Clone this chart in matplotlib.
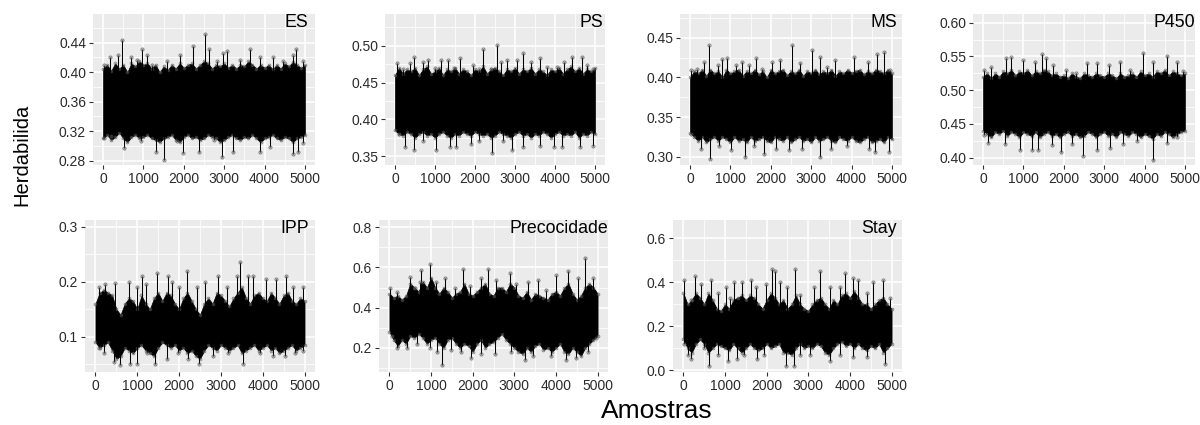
import numpy as np
import matplotlib
matplotlib.use("Agg")
import matplotlib.pyplot as plt
from matplotlib.ticker import MultipleLocator, AutoMinorLocator, FormatStrFormatter

plt.rcParams["font.family"] = ["Liberation Sans", "DejaVu Sans"]

# ---- chain traces: band envelope every 100 samples + isolated excursions (sample, value)
CORE_X = list(range(0, 5001, 100))

ES_HI = [0.405, 0.41, 0.402, 0.412, 0.405, 0.41, 0.40, 0.412, 0.408, 0.415, 0.41, 0.412, 0.405,
         0.41, 0.40, 0.408, 0.403, 0.41, 0.405, 0.412, 0.406, 0.41, 0.412, 0.405, 0.41, 0.415,
         0.412, 0.405, 0.41, 0.408, 0.412, 0.406, 0.41, 0.405, 0.41, 0.408, 0.415, 0.41, 0.405,
         0.41, 0.406, 0.41, 0.404, 0.41, 0.405, 0.412, 0.408, 0.414, 0.41, 0.406, 0.41]
ES_LO = [0.31, 0.315, 0.308, 0.312, 0.318, 0.31, 0.305, 0.312, 0.315, 0.31, 0.312, 0.315, 0.31,
         0.308, 0.305, 0.31, 0.312, 0.315, 0.308, 0.305, 0.312, 0.315, 0.31, 0.312, 0.308, 0.31,
         0.315, 0.312, 0.31, 0.305, 0.308, 0.312, 0.315, 0.31, 0.308, 0.312, 0.31, 0.315, 0.31,
         0.305, 0.31, 0.312, 0.315, 0.31, 0.308, 0.312, 0.31, 0.305, 0.31, 0.312, 0.315]
ES_UP = [(30, 0.41), (170, 0.42), (370, 0.424), (477, 0.444), (680, 0.42), (850, 0.417),
         (970, 0.432), (1077, 0.424), (1220, 0.41), (1590, 0.415), (1915, 0.424),
         (2230, 0.435), (2530, 0.452), (2614, 0.432), (2820, 0.415), (2970, 0.426),
         (3065, 0.429), (3390, 0.417), (3640, 0.431), (3890, 0.42), (4220, 0.42),
         (4460, 0.415), (4710, 0.424), (4790, 0.432), (4955, 0.415)]
ES_DN = [(25, 0.31), (190, 0.313), (518, 0.297), (930, 0.306), (1300, 0.292), (1520, 0.281),
         (1830, 0.306), (1980, 0.29), (2370, 0.292), (2740, 0.308), (2940, 0.285),
         (3210, 0.292), (3890, 0.292), (4135, 0.299), (4710, 0.289), (4835, 0.292),
         (4955, 0.304)]

PS_HI = [0.46, 0.47, 0.462, 0.468, 0.465, 0.47, 0.46, 0.468, 0.472, 0.462, 0.465, 0.47, 0.46,
         0.468, 0.465, 0.47, 0.462, 0.468, 0.465, 0.46, 0.468, 0.465, 0.472, 0.462, 0.468, 0.47,
         0.465, 0.46, 0.468, 0.465, 0.47, 0.462, 0.468, 0.465, 0.47, 0.462, 0.468, 0.465, 0.46,
         0.468, 0.465, 0.47, 0.462, 0.468, 0.472, 0.465, 0.47, 0.462, 0.468, 0.465, 0.47]
PS_LO = [0.385, 0.38, 0.378, 0.383, 0.38, 0.375, 0.38, 0.383, 0.378, 0.38, 0.375, 0.38, 0.383,
         0.378, 0.375, 0.38, 0.378, 0.383, 0.38, 0.378, 0.383, 0.38, 0.378, 0.38, 0.375, 0.378,
         0.383, 0.38, 0.378, 0.375, 0.38, 0.383, 0.378, 0.38, 0.375, 0.38, 0.378, 0.383, 0.38,
         0.375, 0.38, 0.383, 0.378, 0.38, 0.378, 0.383, 0.375, 0.38, 0.378, 0.383, 0.38]
PS_UP = [(41, 0.476), (200, 0.469), (372, 0.476), (470, 0.484), (700, 0.478), (830, 0.48),
         (1000, 0.47), (1157, 0.481), (1322, 0.481), (1480, 0.47), (1636, 0.483),
         (1942, 0.474), (2100, 0.468), (2206, 0.495), (2397, 0.468), (2545, 0.501),
         (2660, 0.478), (2810, 0.48), (3041, 0.481), (3206, 0.49), (3388, 0.478),
         (3636, 0.483), (3800, 0.471), (4050, 0.471), (4215, 0.478), (4421, 0.485),
         (4669, 0.485), (4790, 0.474), (4950, 0.469)]
PS_DN = [(100, 0.38), (248, 0.363), (470, 0.359), (700, 0.37), (1033, 0.358), (1363, 0.362),
         (1530, 0.362), (1900, 0.366), (2100, 0.37), (2420, 0.354), (2700, 0.37),
         (2934, 0.358), (3206, 0.362), (3636, 0.364), (3967, 0.362), (4180, 0.362),
         (4628, 0.362), (4950, 0.364)]

MS_HI = [0.40, 0.408, 0.405, 0.41, 0.402, 0.41, 0.405, 0.408, 0.40, 0.41, 0.405, 0.408, 0.41,
         0.402, 0.408, 0.405, 0.41, 0.404, 0.408, 0.40, 0.41, 0.405, 0.408, 0.41, 0.403, 0.408,
         0.405, 0.41, 0.402, 0.408, 0.405, 0.41, 0.404, 0.408, 0.405, 0.41, 0.402, 0.408, 0.405,
         0.41, 0.406, 0.408, 0.41, 0.404, 0.408, 0.405, 0.41, 0.408, 0.405, 0.41, 0.405]
MS_LO = [0.33, 0.325, 0.32, 0.325, 0.318, 0.322, 0.325, 0.32, 0.325, 0.322, 0.318, 0.325, 0.32,
         0.322, 0.318, 0.325, 0.32, 0.322, 0.325, 0.32, 0.318, 0.325, 0.322, 0.32, 0.325, 0.318,
         0.322, 0.325, 0.32, 0.322, 0.318, 0.325, 0.32, 0.322, 0.325, 0.32, 0.318, 0.325, 0.322,
         0.32, 0.325, 0.32, 0.318, 0.322, 0.325, 0.318, 0.32, 0.322, 0.318, 0.325, 0.322]
MS_UP = [(30, 0.409), (182, 0.411), (346, 0.42), (470, 0.441), (680, 0.416), (800, 0.423),
         (922, 0.424), (1130, 0.416), (1293, 0.419), (1460, 0.416), (1623, 0.424),
         (1790, 0.411), (2034, 0.42), (2224, 0.422), (2529, 0.441), (2730, 0.418),
         (3023, 0.434), (3212, 0.426), (3400, 0.413), (3600, 0.422), (4053, 0.426),
         (4398, 0.42), (4629, 0.43), (4794, 0.432), (4950, 0.41)]
MS_DN = [(15, 0.329), (264, 0.31), (494, 0.297), (716, 0.313), (1005, 0.308), (1359, 0.3),
         (1580, 0.313), (1829, 0.304), (2140, 0.31), (2446, 0.308), (2775, 0.31),
         (3212, 0.3), (3480, 0.31), (3890, 0.313), (4423, 0.31), (4588, 0.306),
         (4918, 0.306)]

P450_HI = [0.52, 0.525, 0.518, 0.525, 0.52, 0.528, 0.525, 0.53, 0.522, 0.528, 0.525, 0.53,
           0.522, 0.528, 0.525, 0.53, 0.528, 0.522, 0.525, 0.52, 0.522, 0.518, 0.525, 0.52,
           0.518, 0.525, 0.522, 0.52, 0.525, 0.522, 0.52, 0.525, 0.522, 0.518, 0.525, 0.52,
           0.522, 0.525, 0.52, 0.528, 0.522, 0.525, 0.52, 0.528, 0.525, 0.53, 0.522, 0.528,
           0.525, 0.522, 0.525]
P450_LO = [0.44, 0.435, 0.43, 0.438, 0.435, 0.44, 0.432, 0.438, 0.435, 0.43, 0.438, 0.435,
           0.432, 0.438, 0.43, 0.435, 0.438, 0.432, 0.435, 0.43, 0.435, 0.438, 0.432, 0.435,
           0.43, 0.432, 0.438, 0.435, 0.43, 0.435, 0.438, 0.432, 0.435, 0.43, 0.438, 0.435,
           0.432, 0.438, 0.435, 0.43, 0.435, 0.432, 0.428, 0.435, 0.432, 0.438, 0.435, 0.43,
           0.435, 0.438, 0.44]
P450_UP = [(17, 0.53), (207, 0.535), (578, 0.547), (700, 0.549), (990, 0.545), (1281, 0.542),
           (1471, 0.554), (1570, 0.547), (1735, 0.537), (2066, 0.53), (2300, 0.525),
           (2562, 0.54), (2810, 0.54), (3124, 0.537), (3388, 0.542), (3650, 0.53),
           (3967, 0.555), (4215, 0.542), (4545, 0.551), (4793, 0.542), (4960, 0.528)]
P450_DN = [(17, 0.434), (124, 0.421), (537, 0.42), (909, 0.411), (1223, 0.411), (1364, 0.411),
           (1700, 0.418), (1942, 0.409), (2200, 0.42), (2479, 0.402), (2810, 0.411),
           (3140, 0.414), (3470, 0.42), (3801, 0.424), (4215, 0.396), (4545, 0.421),
           (4793, 0.43)]

IPP_HI = [0.16, 0.18, 0.185, 0.18, 0.175, 0.15, 0.14, 0.16, 0.17, 0.165, 0.15, 0.175, 0.16,
          0.15, 0.17, 0.18, 0.165, 0.18, 0.175, 0.16, 0.15, 0.17, 0.18, 0.165, 0.15, 0.14,
          0.16, 0.17, 0.16, 0.18, 0.175, 0.165, 0.155, 0.17, 0.18, 0.19, 0.17, 0.16, 0.175,
          0.18, 0.17, 0.165, 0.18, 0.17, 0.16, 0.175, 0.18, 0.165, 0.16, 0.17, 0.165]
IPP_LO = [0.09, 0.08, 0.085, 0.09, 0.075, 0.06, 0.065, 0.08, 0.075, 0.07, 0.08, 0.085, 0.075,
          0.07, 0.065, 0.08, 0.09, 0.085, 0.08, 0.085, 0.075, 0.08, 0.07, 0.075, 0.065, 0.06,
          0.075, 0.085, 0.08, 0.075, 0.085, 0.08, 0.075, 0.08, 0.085, 0.07, 0.075, 0.08, 0.085,
          0.075, 0.08, 0.085, 0.075, 0.08, 0.07, 0.075, 0.08, 0.085, 0.075, 0.08, 0.085]
IPP_UP = [(80, 0.19), (240, 0.195), (476, 0.197), (794, 0.2), (990, 0.19), (1111, 0.21),
          (1220, 0.195), (1468, 0.215), (1730, 0.21), (1820, 0.2), (2000, 0.19),
          (2183, 0.22), (2420, 0.19), (2619, 0.2), (2937, 0.21), (3135, 0.19),
          (3373, 0.21), (3452, 0.235), (3651, 0.21), (3770, 0.21), (4087, 0.205),
          (4325, 0.205), (4563, 0.21), (4720, 0.19), (4960, 0.19)]
IPP_DN = [(80, 0.08), (200, 0.07), (450, 0.055), (595, 0.048), (833, 0.05), (992, 0.05),
          (1230, 0.07), (1429, 0.05), (1706, 0.06), (1984, 0.07), (2222, 0.06),
          (2484, 0.05), (2817, 0.065), (3175, 0.07), (3532, 0.05), (3928, 0.07),
          (4246, 0.065), (4524, 0.065), (4762, 0.07), (4960, 0.075)]

PREC_HI = [0.47, 0.45, 0.46, 0.44, 0.46, 0.52, 0.50, 0.48, 0.53, 0.50, 0.55, 0.50, 0.47,
           0.50, 0.48, 0.45, 0.47, 0.48, 0.52, 0.47, 0.46, 0.48, 0.50, 0.52, 0.47, 0.46,
           0.50, 0.50, 0.48, 0.52, 0.50, 0.46, 0.45, 0.48, 0.44, 0.47, 0.46, 0.45, 0.44,
           0.47, 0.48, 0.46, 0.50, 0.52, 0.47, 0.44, 0.46, 0.50, 0.52, 0.50, 0.47]
PREC_LO = [0.28, 0.24, 0.21, 0.24, 0.22, 0.26, 0.25, 0.27, 0.25, 0.22, 0.24, 0.25, 0.22,
           0.20, 0.24, 0.25, 0.22, 0.20, 0.22, 0.21, 0.18, 0.22, 0.24, 0.20, 0.22, 0.23,
           0.25, 0.27, 0.24, 0.22, 0.20, 0.18, 0.17, 0.20, 0.18, 0.21, 0.22, 0.19, 0.20,
           0.18, 0.20, 0.22, 0.18, 0.17, 0.20, 0.18, 0.16, 0.20, 0.22, 0.24, 0.26]
PREC_UP = [(20, 0.50), (175, 0.48), (494, 0.554), (614, 0.50), (734, 0.53), (750, 0.587),
           (973, 0.617), (1130, 0.53), (1332, 0.55), (1570, 0.50), (1770, 0.59),
           (1930, 0.51), (2209, 0.55), (2368, 0.59), (2567, 0.54), (2887, 0.57),
           (3047, 0.52), (3325, 0.53), (3564, 0.54), (3764, 0.49), (4003, 0.56),
           (4282, 0.58), (4522, 0.55), (4705, 0.645), (4880, 0.55)]
PREC_DN = [(56, 0.26), (175, 0.20), (415, 0.20), (654, 0.22), (973, 0.20), (1148, 0.18),
           (1252, 0.114), (1491, 0.19), (1730, 0.18), (1970, 0.15), (2209, 0.17),
           (2528, 0.17), (2926, 0.18), (3245, 0.14), (3445, 0.16), (3883, 0.16),
           (4242, 0.14), (4481, 0.15), (4760, 0.18), (4960, 0.25)]

STAY_HI = [0.35, 0.30, 0.32, 0.35, 0.33, 0.30, 0.35, 0.32, 0.28, 0.27, 0.30, 0.28, 0.32,
           0.33, 0.34, 0.32, 0.34, 0.33, 0.30, 0.28, 0.32, 0.35, 0.33, 0.30, 0.32, 0.28,
           0.30, 0.34, 0.30, 0.28, 0.27, 0.30, 0.32, 0.33, 0.30, 0.28, 0.32, 0.30, 0.34,
           0.35, 0.33, 0.36, 0.33, 0.30, 0.30, 0.28, 0.30, 0.32, 0.33, 0.30, 0.28]
STAY_LO = [0.14, 0.10, 0.08, 0.12, 0.14, 0.12, 0.08, 0.10, 0.12, 0.11, 0.10, 0.09, 0.12,
           0.10, 0.08, 0.10, 0.12, 0.10, 0.09, 0.10, 0.12, 0.10, 0.11, 0.12, 0.08, 0.08,
           0.07, 0.10, 0.12, 0.10, 0.11, 0.10, 0.12, 0.11, 0.08, 0.07, 0.10, 0.12, 0.13,
           0.11, 0.12, 0.10, 0.12, 0.10, 0.09, 0.11, 0.10, 0.12, 0.08, 0.10, 0.12]
STAY_UP = [(24, 0.41), (183, 0.32), (279, 0.43), (422, 0.39), (660, 0.41), (820, 0.35),
           (1019, 0.38), (1130, 0.33), (1218, 0.40), (1417, 0.40), (1616, 0.41),
           (1736, 0.38), (1975, 0.39), (2134, 0.46), (2190, 0.45), (2330, 0.40),
           (2490, 0.38), (2691, 0.46), (2811, 0.34), (3130, 0.38), (3288, 0.45),
           (3527, 0.38), (3766, 0.38), (3885, 0.44), (4085, 0.42), (4204, 0.41),
           (4403, 0.35), (4562, 0.40), (4801, 0.41), (4960, 0.33)]
STAY_DN = [(24, 0.12), (104, 0.07), (183, 0.05), (502, 0.10), (621, 0.02), (820, 0.07),
           (1059, 0.04), (1298, 0.05), (1457, 0.07), (1776, 0.05), (1935, 0.07),
           (2452, 0.02), (2651, 0.02), (2811, 0.07), (3050, 0.07), (3510, 0.04),
           (3766, 0.07), (4085, 0.06), (4403, 0.06), (4840, 0.03)]

TRAITS = ["ES", "PS", "MS", "P450", "IPP", "Precocidade", "Stay"]
CORES = [(ES_HI, ES_LO), (PS_HI, PS_LO), (MS_HI, MS_LO), (P450_HI, P450_LO),
         (IPP_HI, IPP_LO), (PREC_HI, PREC_LO), (STAY_HI, STAY_LO)]
EXCURSIONS = [(ES_UP, ES_DN), (PS_UP, PS_DN), (MS_UP, MS_DN), (P450_UP, P450_DN),
              (IPP_UP, IPP_DN), (PREC_UP, PREC_DN), (STAY_UP, STAY_DN)]

# ---- layout (pixel boxes: left, top, right, bottom), axis ranges, label placement
W, H = 1200, 425
BOXES = [(93, 14, 315, 165), (385, 14, 605, 165), (680, 14, 902, 165), (973, 14, 1195, 165),
         (85, 220, 315, 372), (379, 220, 608, 372), (673, 220, 902, 372)]
YLIMS = [(0.274, 0.479), (0.338, 0.543), (0.2896, 0.48), (0.389, 0.613),
         (0.036, 0.312), (0.08, 0.836), (-0.008, 0.683)]
YSTEP = [0.04, 0.05, 0.05, 0.05, 0.1, 0.2, 0.2]
YFMT = ["%.2f", "%.2f", "%.2f", "%.2f", "%.1f", "%.1f", "%.1f"]
TITLE_X = [0.968, 0.99, 0.977, 1.0, 0.974, 0.999, 0.977]

BG = "#EBEBEB"
POINT_FACE = (0.45, 0.45, 0.45, 0.45)
POINT_EDGE = (0.25, 0.25, 0.25, 0.6)

fig = plt.figure(figsize=(W / 100, H / 100), dpi=100)

for i, name in enumerate(TRAITS):
    l, t, r, b = BOXES[i]
    ax = fig.add_axes([l / W, 1 - b / H, (r - l) / W, (b - t) / H])
    ax.set_facecolor(BG)
    for s in ax.spines.values():
        s.set_visible(False)
    ax.set_xlim(-250, 5250)
    ax.set_ylim(*YLIMS[i])
    ax.xaxis.set_major_locator(MultipleLocator(1000))
    ax.xaxis.set_minor_locator(AutoMinorLocator(2))
    ax.yaxis.set_major_locator(MultipleLocator(YSTEP[i]))
    ax.yaxis.set_minor_locator(AutoMinorLocator(2))
    ax.yaxis.set_major_formatter(FormatStrFormatter(YFMT[i]))
    ax.grid(which="major", color="white", linewidth=1.1)
    ax.grid(which="minor", color="white", linewidth=0.55)
    ax.set_axisbelow(True)
    ax.tick_params(which="major", length=3, width=0.8, color="#333333",
                   labelsize=10, labelcolor="#2b2b2b", pad=2)
    ax.tick_params(which="minor", length=0)

    hi, lo = CORES[i]
    up, dn = EXCURSIONS[i]
    mid = (np.array(hi) + np.array(lo)) / 2
    ax.fill_between(CORE_X, lo, hi, color="black", linewidth=0.5, edgecolor="black", zorder=2)
    ax.plot(CORE_X, hi, "o", ms=2.2, mfc=POINT_FACE, mec=POINT_EDGE, mew=0.4, zorder=3)
    ax.plot(CORE_X, lo, "o", ms=2.2, mfc=POINT_FACE, mec=POINT_EDGE, mew=0.4, zorder=3)
    for pts in (up, dn):
        px = np.array([p[0] for p in pts])
        py = np.array([p[1] for p in pts])
        base = np.interp(px, CORE_X, mid)
        ax.vlines(px, base, py, color="black", linewidth=0.75, zorder=3)
        ax.plot(px, py, "o", ms=2.4, mfc=POINT_FACE, mec=POINT_EDGE, mew=0.5, zorder=4)

    ax.text(TITLE_X[i], 0.943, name, transform=ax.transAxes, ha="right", va="center",
            fontsize=12.8, color="black")

fig.text(22 / W, 1 - 155 / H, "Herdabilida", rotation=90, ha="center", va="center",
         fontsize=14.5, color="black")
fig.text(657 / W, 1 - 411 / H, "Amostras", ha="center", va="center",
         fontsize=19, color="black")

fig.savefig("out.png", dpi=100)
